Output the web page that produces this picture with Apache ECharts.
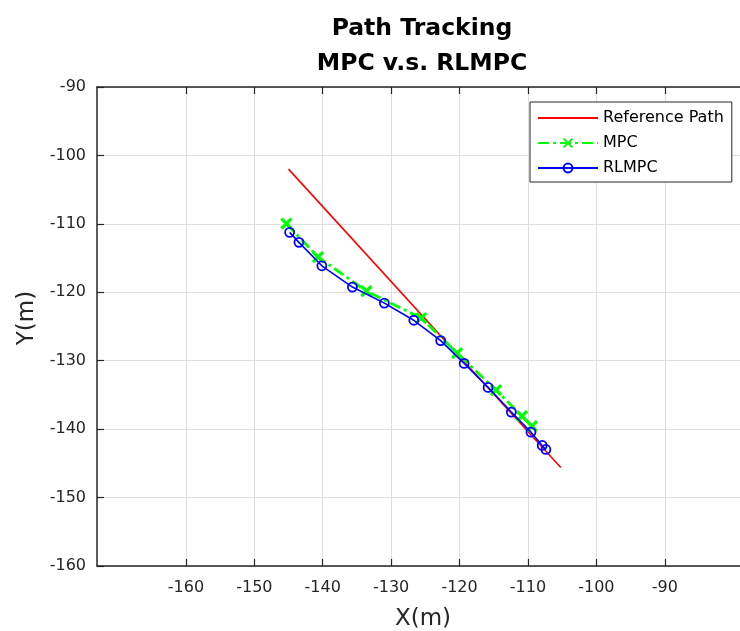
<!DOCTYPE html>
<html>
<head>
<meta charset="utf-8">
<script src="https://cdn.jsdelivr.net/npm/echarts@6/dist/echarts.min.js"></script>
<style>html,body{margin:0;padding:0;background:#fff}#c{width:740px;height:631px}</style>
</head>
<body>
<div id="c"></div>
<script>
// ---- data ----
var xTicks = [-160, -150, -140, -130, -120, -110, -100, -90];
var refX = [-145.0, -105.2];
var refY = [-102.0, -145.6];
var mpcX = [-145.32, -140.69, -133.62, -125.60, -120.35, -114.66, -110.87, -109.42];
var mpcY = [-109.96, -114.85, -119.82, -123.77, -128.89, -134.30, -138.10, -139.56];
var rlX = [-144.84, -143.48, -140.13, -135.66, -130.99, -126.69, -122.76, -119.33, -115.83, -112.43, -109.56, -107.92, -107.38];
var rlY = [-111.24, -112.70, -116.13, -119.24, -121.58, -124.09, -127.06, -130.39, -133.90, -137.51, -140.44, -142.38, -142.97];

function pairs(xs, ys) { return xs.map(function (x, i) { return [x, ys[i]]; }); }

var FONT = 'DejaVu Sans';
var AX = '#262626';
var chart = echarts.init(document.getElementById('c'), null, {renderer: 'canvas'});
chart.setOption({
  animation: false,
  backgroundColor: '#fff',
  textStyle: {fontFamily: FONT},
  grid: {left: 97, top: 87, right: 0, bottom: 65, containLabel: false},
  xAxis: [{
    type: 'value', min: -173, max: -79, position: 'bottom',
    axisLine: {show: true, onZero: false, lineStyle: {color: AX, width: 1.5}},
    axisTick: {show: true, inside: true, length: 7, customValues: xTicks, lineStyle: {color: AX, width: 1.2}},
    axisLabel: {customValues: xTicks, fontSize: 16, color: AX, margin: 14, fontFamily: FONT},
    splitLine: {show: true, lineStyle: {color: '#dedede', width: 1}}
  }, {
    type: 'value', min: -173, max: -79, position: 'top',
    axisLine: {show: true, onZero: false, lineStyle: {color: AX, width: 1.5}},
    axisTick: {show: true, inside: true, length: 7, customValues: xTicks, lineStyle: {color: AX, width: 1.2}},
    axisLabel: {show: false},
    splitLine: {show: false}
  }],
  yAxis: [{
    type: 'value', min: -160, max: -90, interval: 10, position: 'left',
    axisLine: {show: true, onZero: false, lineStyle: {color: AX, width: 1.5}},
    axisTick: {show: true, inside: true, length: 7, lineStyle: {color: AX, width: 1.2}},
    axisLabel: {fontSize: 16, color: AX, margin: 11, fontFamily: FONT},
    splitLine: {show: true, lineStyle: {color: '#dedede', width: 1}}
  }],
  legend: {
    orient: 'vertical', left: 530, top: 102,
    padding: [8, 8, 6, 7],
    itemWidth: 60, itemHeight: 11, itemGap: 9,
    backgroundColor: '#fff', borderColor: AX, borderWidth: 1, borderRadius: 0,
    textStyle: {fontSize: 16, color: '#000', fontFamily: FONT, lineHeight: 11},
    data: ['Reference Path', 'MPC', 'RLMPC']
  },
  graphic: [
    {type: 'text', x: 422, y: 29, style: {text: 'Path Tracking', font: 'bold 23.5px "DejaVu Sans"', fill: '#000', textAlign: 'center', textVerticalAlign: 'middle'}},
    {type: 'text', x: 422, y: 64, style: {text: 'MPC v.s. RLMPC', font: 'bold 23.5px "DejaVu Sans"', fill: '#000', textAlign: 'center', textVerticalAlign: 'middle'}},
    {type: 'text', x: 423, y: 619, style: {text: 'X(m)', font: '23px "DejaVu Sans"', fill: AX, textAlign: 'center', textVerticalAlign: 'middle'}},
    {type: 'text', x: 27, y: 318, rotation: Math.PI / 2, style: {text: 'Y(m)', font: '23px "DejaVu Sans"', fill: AX, textAlign: 'center', textVerticalAlign: 'middle'}}
  ],
  series: [{
    name: 'Reference Path', type: 'line', data: pairs(refX, refY),
    showSymbol: false, symbol: 'none',
    lineStyle: {color: '#ff0000', width: 1.6},
    itemStyle: {color: 'rgba(0,0,0,0)', borderWidth: 0}, z: 2
  }, {
    name: 'MPC', type: 'line', data: pairs(mpcX, mpcY),
    symbol: 'path://M0 0L10 10M10 0L0 10', symbolSize: 10,
    lineStyle: {color: '#00ff00', width: 2.8, type: [11, 4, 3, 4]},
    itemStyle: {color: 'rgba(0,0,0,0)', borderColor: '#00ff00', borderWidth: 3.2}, z: 3
  }, {
    name: 'RLMPC', type: 'line', data: pairs(rlX, rlY),
    symbol: 'circle', symbolSize: 9,
    lineStyle: {color: '#0000ff', width: 1.6},
    itemStyle: {color: 'rgba(0,0,0,0)', borderColor: '#0000ff', borderWidth: 1.8}, z: 4
  }]
});
</script>
</body>
</html>
